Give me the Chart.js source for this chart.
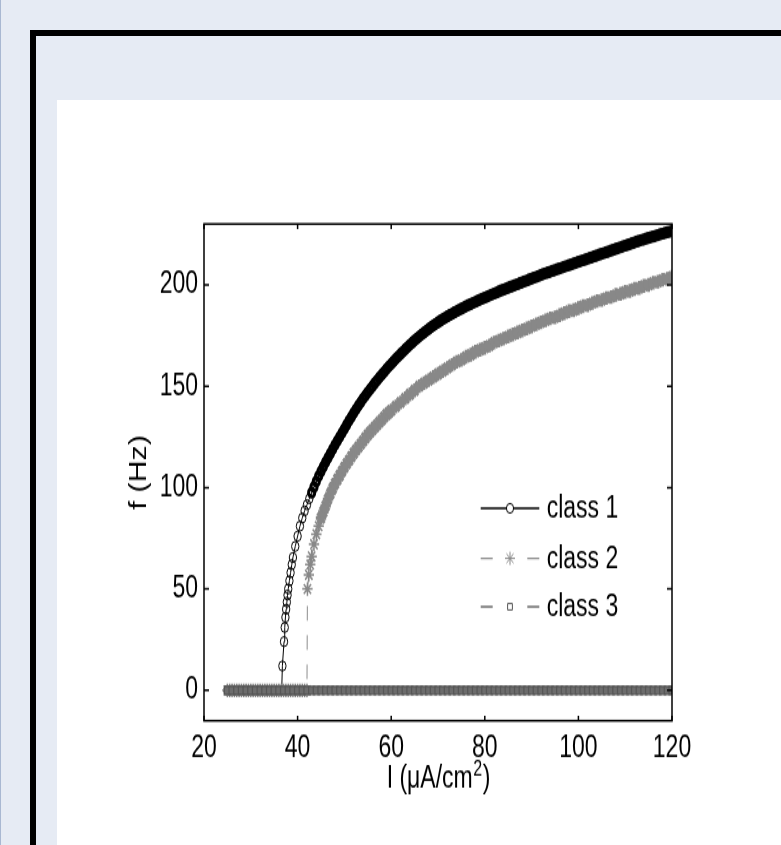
<!DOCTYPE html>
<html>
<head>
<meta charset="utf-8">
<script src="https://cdn.jsdelivr.net/npm/chart.js@4.4.0/dist/chart.umd.min.js"></script>
<style>
  html, body { margin: 0; padding: 0; width: 781px; height: 845px; overflow: hidden; background: #e6ebf4; }
  #edge { position: absolute; left: 0; top: 0; width: 1px; height: 845px; background: #a9b8d2; }
  #frame { position: absolute; left: 30px; top: 30px; width: 800px; height: 900px; border-left: 6px solid #000; border-top: 6px solid #000; }
  #panel { position: absolute; left: 57px; top: 100px; width: 724px; height: 745px; background: #fff; overflow: hidden; }
  #wrap { position: absolute; left: 0; top: 0; width: 724px; height: 560px; transform: scaleY(1.33); transform-origin: 0 0; }
</style>
</head>
<body>
<div id="edge"></div>
<div id="frame"></div>
<div id="panel"><div id="wrap"><canvas id="grafico" width="724" height="560"></canvas></div></div>
<script>
// tick labels
const xTicks = [20, 40, 60, 80, 100, 120];
const yTicks = [0, 50, 100, 150, 200];
const seriesNames = ['class 1', 'class 2', 'class 3'];

// class 1: I (uA/cm2) and f (Hz)
const class1I = [25, 26, 27, 28, 29, 30, 31, 32, 33, 34, 35, 36, 36.6,
  36.75, 37.1, 37.25, 37.4, 37.55, 37.7, 37.85, 38, 38.25, 38.5, 38.75, 39, 39.5, 40, 40.5, 41, 41.5, 42, 42.5,
  43, 43.5, 44, 44.5, 45, 45.5, 46, 46.5, 47, 47.5, 48, 48.5, 49, 49.5, 50,
  50.5, 51, 51.5, 52, 52.5, 53, 53.5, 54, 54.5, 55, 55.5, 56, 56.5, 57, 57.5, 58, 58.5, 59, 59.5, 60,
  60.5, 61, 61.5, 62, 62.5, 63, 63.5, 64, 64.5, 65,
  65.5, 66, 66.5, 67, 67.5, 68, 68.5, 69, 69.5, 70,
  70.5, 71, 71.5, 72, 72.5, 73, 73.5, 74, 74.5, 75,
  75.5, 76, 76.5, 77, 77.5, 78, 78.5, 79, 79.5, 80,
  80.5, 81, 81.5, 82, 82.5, 83, 83.5, 84, 84.5, 85,
  85.5, 86, 86.5, 87, 87.5, 88, 88.5, 89, 89.5, 90,
  90.5, 91, 91.5, 92, 92.5, 93, 93.5, 94, 94.5, 95,
  95.5, 96, 96.5, 97, 97.5, 98, 98.5, 99, 99.5, 100,
  100.5, 101, 101.5, 102, 102.5, 103, 103.5, 104, 104.5, 105,
  105.5, 106, 106.5, 107, 107.5, 108, 108.5, 109, 109.5, 110,
  110.5, 111, 111.5, 112, 112.5, 113, 113.5, 114, 114.5, 115,
  115.5, 116, 116.5, 117, 117.5, 118, 118.5, 119, 119.5, 120];
const class1F = [0, 0, 0, 0, 0, 0, 0, 0, 0, 0, 0, 0, 0,
  12, 24, 31, 36, 40, 43.5, 47, 50, 54, 58, 62, 65.5, 71, 76, 81, 85, 88.5, 91.5, 94.5,
  97.5, 100.3, 103, 105.6, 108, 110.3, 112.5, 114.7, 116.8, 118.9, 121, 123, 125, 127, 129,
  131, 133, 134.9, 136.8, 138.6, 140.4, 142.1, 143.8, 145.4, 147, 148.5, 150, 151.5, 152.9, 154.3, 155.7, 157, 158.4, 159.7, 161,
  162.2, 163.5, 164.7, 165.9, 167, 168.2, 169.3, 170.4, 171.5, 172.5,
  173.5, 174.5, 175.5, 176.4, 177.3, 178.2, 179.1, 179.9, 180.7, 181.5,
  182.3, 183, 183.7, 184.4, 185.1, 185.7, 186.4, 187, 187.6, 188.2,
  188.8, 189.4, 190, 190.5, 191.1, 191.6, 192.2, 192.7, 193.2, 193.7,
  194.2, 194.7, 195.2, 195.7, 196.2, 196.7, 197.2, 197.6, 198.1, 198.5,
  199, 199.4, 199.9, 200.3, 200.8, 201.2, 201.7, 202.1, 202.6, 203,
  203.5, 203.9, 204.4, 204.8, 205.3, 205.7, 206.1, 206.5, 206.9, 207.3,
  207.7, 208.1, 208.5, 208.9, 209.3, 209.7, 210.1, 210.5, 210.9, 211.3,
  211.7, 212.1, 212.5, 212.9, 213.3, 213.7, 214.1, 214.5, 214.9, 215.3,
  215.7, 216.1, 216.5, 216.9, 217.3, 217.7, 218.1, 218.5, 218.9, 219.3,
  219.7, 220.1, 220.5, 220.9, 221.3, 221.7, 222.1, 222.4, 222.8, 223.1,
  223.5, 223.8, 224.2, 224.5, 224.9, 225.2, 225.6, 225.9, 226.2, 226.5];

// class 2
const class2I = [25, 25.5, 26, 26.5, 27, 27.5, 28, 28.5, 29, 29.5, 30, 30.5, 31, 31.5, 32, 32.5, 33, 33.5,
  34, 34.5, 35, 35.5, 36, 36.5, 37, 37.5, 38, 38.5, 39, 39.5, 40, 40.5, 41, 41.5, 42,
  42.1, 42.4, 42.7, 43, 43.5, 44, 44.5, 45,
  45.5, 46, 46.5, 47, 47.5, 48, 48.5, 49, 49.5, 50,
  50.5, 51, 51.5, 52, 52.5, 53, 53.5, 54, 54.5, 55, 55.5, 56, 56.5, 57, 57.5, 58, 58.5, 59, 59.5, 60,
  61, 62, 63, 64, 65, 66, 67, 68, 69, 70,
  71, 72, 73, 74, 75, 76, 77, 78, 79, 80,
  81, 82, 83, 84, 85, 86, 87, 88, 89, 90,
  91, 92, 93, 94, 95, 96, 97, 98, 99, 100,
  101, 102, 103, 104, 105, 106, 107, 108, 109, 110,
  111, 112, 113, 114, 115, 116, 117, 118, 119, 120];
const class2F = [0, 0, 0, 0, 0, 0, 0, 0, 0, 0, 0, 0, 0, 0, 0, 0, 0, 0,
  0, 0, 0, 0, 0, 0, 0, 0, 0, 0, 0, 0, 0, 0, 0, 0, 0,
  50, 57, 62, 66, 72, 77, 81, 85,
  88, 91, 94.3, 97, 99.6, 102, 104, 106, 108, 110,
  111.8, 113.5, 115.3, 117, 118.5, 120, 121.5, 123, 124.5, 126, 127.3, 128.5, 129.8, 131, 132.3, 133.5, 134.8, 136, 137, 138,
  140, 142, 144, 146, 148, 150, 151.5, 153, 154.5, 156,
  157.5, 159, 160.5, 162, 163, 164.5, 165.5, 167, 168, 169,
  170, 171.5, 172.5, 173.5, 174.5, 175.5, 176.5, 177.5, 178.5, 179.5,
  180.5, 181.5, 182.5, 183.5, 184, 185, 186, 187, 187.5, 188.5,
  189.5, 190, 191, 192, 192.5, 193.5, 194, 195, 195.5, 196.5,
  197, 198, 198.5, 199.5, 200, 201, 201.5, 202.5, 203, 204];

// class 3
const class3I = [25, 26, 27, 28, 29, 30,
  31, 32, 33, 34, 35, 36, 37, 38, 39, 40,
  41, 42, 43, 44, 45, 46, 47, 48, 49, 50,
  51, 52, 53, 54, 55, 56, 57, 58, 59, 60,
  61, 62, 63, 64, 65, 66, 67, 68, 69, 70,
  71, 72, 73, 74, 75, 76, 77, 78, 79, 80,
  81, 82, 83, 84, 85, 86, 87, 88, 89, 90,
  91, 92, 93, 94, 95, 96, 97, 98, 99, 100,
  101, 102, 103, 104, 105, 106, 107, 108, 109, 110,
  111, 112, 113, 114, 115, 116, 117, 118, 119, 120];
const class3F = [0, 0, 0, 0, 0, 0,
  0, 0, 0, 0, 0, 0, 0, 0, 0, 0,
  0, 0, 0, 0, 0, 0, 0, 0, 0, 0,
  0, 0, 0, 0, 0, 0, 0, 0, 0, 0,
  0, 0, 0, 0, 0, 0, 0, 0, 0, 0,
  0, 0, 0, 0, 0, 0, 0, 0, 0, 0,
  0, 0, 0, 0, 0, 0, 0, 0, 0, 0,
  0, 0, 0, 0, 0, 0, 0, 0, 0, 0,
  0, 0, 0, 0, 0, 0, 0, 0, 0, 0,
  0, 0, 0, 0, 0, 0, 0, 0, 0, 0];

const familia = "'Liberation Sans', Arial, sans-serif";
const fuente = { family: familia, size: 23 };
const pares = (xs, ys) => xs.map((x, i) => ({ x: x, y: ys[i] }));

// MATLAB-style box with inward ticks + x label with superscript
const cajaPlugin = {
  id: 'caja',
  afterDraw(chart) {
    const ctx = chart.ctx;
    const a = chart.chartArea;
    const sx = chart.scales.x, sy = chart.scales.y;
    ctx.save();
    ctx.strokeStyle = '#000';
    ctx.lineWidth = 1.5;
    ctx.setLineDash([]);
    ctx.strokeRect(a.left, a.top, a.right - a.left, a.bottom - a.top);
    ctx.beginPath();
    xTicks.forEach(v => {
      const px = sx.getPixelForValue(v);
      ctx.moveTo(px, a.bottom); ctx.lineTo(px, a.bottom - 3.8);
      ctx.moveTo(px, a.top); ctx.lineTo(px, a.top + 3.8);
    });
    yTicks.forEach(v => {
      const py = sy.getPixelForValue(v);
      ctx.moveTo(a.left, py); ctx.lineTo(a.left + 5, py);
      ctx.moveTo(a.right, py); ctx.lineTo(a.right - 5, py);
    });
    ctx.stroke();

    // x axis title: I (μA/cm^2)
    const base = 'I (μA/cm', sup = '2', fin = ')';
    ctx.fillStyle = '#000';
    ctx.textBaseline = 'alphabetic';
    ctx.textAlign = 'left';
    ctx.font = '23px ' + familia;
    const w1 = ctx.measureText(base).width, w3 = ctx.measureText(fin).width;
    ctx.font = '16px ' + familia;
    const w2 = ctx.measureText(sup).width;
    let x0 = (a.left + a.right) / 2 - (w1 + w2 + w3) / 2;
    const yb = 516.5;
    ctx.font = '23px ' + familia;
    ctx.fillText(base, x0, yb);
    ctx.font = '16px ' + familia;
    ctx.fillText(sup, x0 + w1 + 0.5, yb - 9);
    ctx.font = '23px ' + familia;
    ctx.fillText(fin, x0 + w1 + w2 + 1, yb);
    ctx.restore();
  }
};

// legend: line sample with marker in the middle
const leyendaPlugin = {
  id: 'leyenda',
  afterDraw(chart) {
    const ctx = chart.ctx;
    const filas = [307, 344.6, 381];
    const guiones = [[], [12, 34.6], [12, 34.6]];
    const colLinea = ['#000', '#8c8c8c', '#6e6e6e'];
    const radios = [3.6, 5, 3.4];
    ctx.save();
    chart.data.datasets.forEach((ds, i) => {
      const y = filas[i];
      ctx.strokeStyle = colLinea[i];
      ctx.lineWidth = 1.3;
      ctx.setLineDash(guiones[i]);
      ctx.beginPath();
      ctx.moveTo(423.7, y); ctx.lineTo(482.3, y);
      ctx.stroke();
      ctx.setLineDash([]);
      ctx.strokeStyle = ds.pointBorderColor;
      ctx.fillStyle = '#fff';
      ctx.lineWidth = 1;
      Chart.helpers.drawPoint(ctx, { pointStyle: ds.pointStyle, radius: radios[i], borderWidth: 1, rotation: 0 }, 453, y);
      ctx.fillStyle = '#000';
      ctx.font = '23px ' + familia;
      ctx.textAlign = 'left';
      ctx.textBaseline = 'middle';
      ctx.fillText(ds.label, 489.7, y + 1);
    });
    ctx.restore();
  }
};

const graphic = document.getElementById('grafico');

const chart = new Chart(graphic, {
  type: 'line',
  data: {
    datasets: [{
      label: seriesNames[0],
      data: pares(class1I, class1F),
      borderColor: '#000',
      borderWidth: 1,
      pointStyle: 'circle',
      pointRadius: c => (c.raw && c.raw.x >= 43) ? 3.1 : 3.7,
      pointBorderWidth: c => (c.raw && c.raw.x >= 43) ? 3 : 1,
      pointBorderColor: '#000',
      pointBackgroundColor: 'rgba(0,0,0,0)',
      order: 3
    }, {
      label: seriesNames[1],
      data: pares(class2I, class2F),
      borderColor: '#8c8c8c',
      borderWidth: 1,
      borderDash: [11, 11],
      pointStyle: 'star',
      pointRadius: 5.2,
      pointBorderWidth: c => (c.raw && c.raw.x >= 45) ? 2.8 : 1.5,
      pointBorderColor: '#888',
      pointBackgroundColor: 'rgba(0,0,0,0)',
      order: 2
    }, {
      label: seriesNames[2],
      data: pares(class3I, class3F),
      borderColor: '#6e6e6e',
      borderWidth: 1,
      borderDash: [11, 11],
      pointStyle: 'rect',
      pointRadius: 4.3,
      pointBorderWidth: 1.2,
      pointBorderColor: '#555',
      pointBackgroundColor: '#6c6c6c',
      order: 1
    }]
  },
  options: {
    responsive: false,
    animation: false,
    devicePixelRatio: 1,
    layout: { padding: { left: 69.2, top: 93.2, right: 109, bottom: 37.9 } },
    plugins: { legend: { display: false }, tooltip: { enabled: false } },
    scales: {
      x: {
        type: 'linear',
        min: 20, max: 120,
        afterBuildTicks: s => { s.ticks = xTicks.map(v => ({ value: v })); },
        afterFit: s => { s.height = 55.4; },
        grid: { display: false, drawTicks: false },
        border: { display: false },
        ticks: { font: fuente, color: '#000', padding: 7.5, autoSkip: false, maxRotation: 0 },
        title: { display: false }
      },
      y: {
        type: 'linear',
        min: -15, max: 230,
        afterBuildTicks: s => { s.ticks = yTicks.map(v => ({ value: v })); },
        afterFit: s => { s.width = 77.8; },
        grid: { display: false, drawTicks: false },
        border: { display: false },
        ticks: { font: fuente, color: '#000', padding: 6, autoSkip: false },
        title: { display: true, text: 'f (Hz)', font: fuente, color: '#000', padding: 0 }
      }
    }
  },
  plugins: [cajaPlugin, leyendaPlugin]
});
</script>
</body>
</html>
